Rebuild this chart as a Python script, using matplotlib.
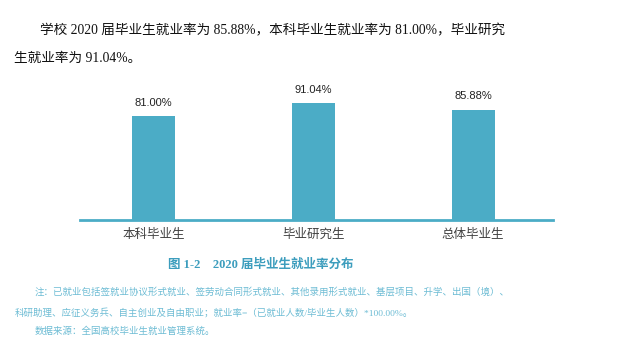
import matplotlib.pyplot as plt

plt.rcParams['font.family'] = ['Liberation Serif', 'Noto Sans CJK SC']

categories = ['本科毕业生', '毕业研究生', '总体毕业生']
rates = [81.00, 91.04, 85.88]

bar_color = '#4BACC6'
cap_color = '#3C9DBD'
note_color = '#6DBCD4'

fig = plt.figure(figsize=(6.18, 3.48), dpi=100)
ax = fig.add_axes([80 / 618, 1 - 219.7 / 348, 473 / 618, 139.7 / 348])

x = range(len(categories))
ax.bar(x, rates, width=0.27, color=bar_color, zorder=2)
ax.set_xlim(-0.46, 2.5)
ax.set_ylim(0, 109.1)

for xi, v in zip(x, rates):
    ax.annotate(f'{v:.2f}%', (xi, v), xytext=(0, 6), textcoords='offset points',
                ha='center', va='bottom', fontsize=8, color='#222222',
                family=['Liberation Sans', 'Noto Sans CJK SC'])

ax.set_xticks(list(x))
ax.set_xticklabels(categories, fontsize=9, color='#404040',
                   family=['Noto Sans CJK SC'])
ax.tick_params(axis='x', length=0, pad=6)
ax.set_yticks([])
for s in ['top', 'right', 'left']:
    ax.spines[s].set_visible(False)
ax.spines['bottom'].set_color(bar_color)
ax.spines['bottom'].set_linewidth(2)
ax.spines['bottom'].set_zorder(3)

# paragraph above the chart
fig.text(40 / 618, 1 - 31 / 348,
         '学校 2020 届毕业生就业率为 85.88%，本科毕业生就业率为 81.00%，毕业研究',
         fontsize=9.8, va='center', ha='left', color='#111111')
fig.text(14 / 618, 1 - 58 / 348, '生就业率为 91.04%。',
         fontsize=9.8, va='center', ha='left', color='#111111')

# caption and notes
fig.text(261 / 618, 1 - 265 / 348, '图 1-2    2020 届毕业生就业率分布',
         fontsize=9, fontweight='bold', ha='center', va='center', color=cap_color)
fig.text(35 / 618, 1 - 291.5 / 348,
         '注：已就业包括签就业协议形式就业、签劳动合同形式就业、其他录用形式就业、基层项目、升学、出国（境）、',
         fontsize=6.8, ha='left', va='center', color=note_color)
fig.text(15 / 618, 1 - 313 / 348,
         '科研助理、应征义务兵、自主创业及自由职业；就业率=（已就业人数/毕业生人数）*100.00%。',
         fontsize=6.8, ha='left', va='center', color=note_color)
fig.text(35 / 618, 1 - 331.5 / 348, '数据来源：全国高校毕业生就业管理系统。',
         fontsize=6.8, ha='left', va='center', color=note_color)

fig.savefig('out.png', dpi=100)
